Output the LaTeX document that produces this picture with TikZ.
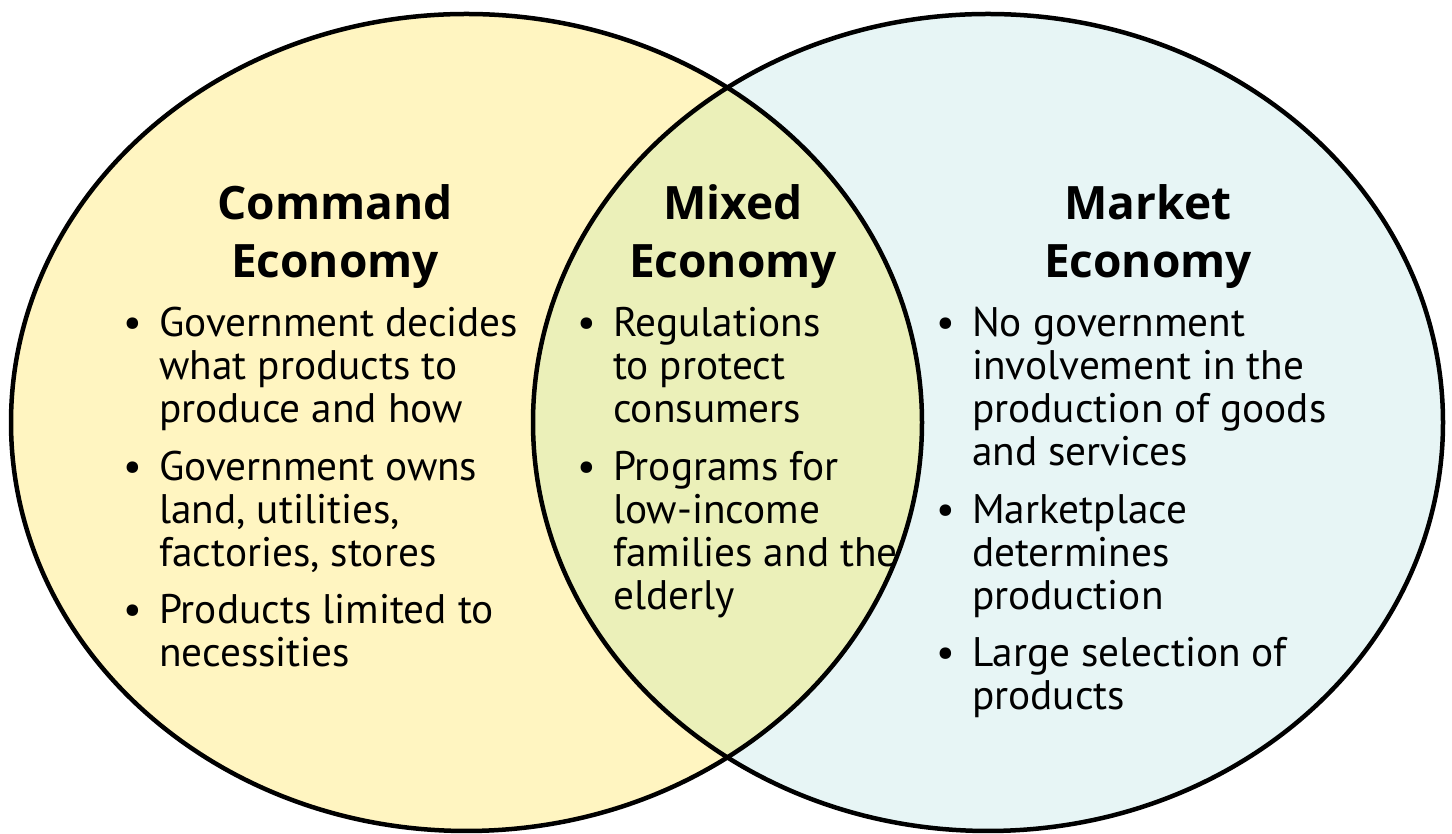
\documentclass[tikz,border=0pt]{standalone}
\usepackage{fontspec}
\setmainfont{PT Sans}
\newfontfamily\titlefont{Open Sans}
\definecolor{cmdfill}{RGB}{255,245,193}
\definecolor{mktfill}{RGB}{231,245,245}
\definecolor{mixfill}{RGB}{235,240,185}
\begin{document}
\begin{tikzpicture}[x=1pt,y=1pt,
  title/.style={align=center,anchor=base,font=\titlefont\bfseries\fontsize{46}{58}\selectfont},
  item/.style={align=left,anchor=base west,inner sep=0pt,font=\fontsize{41.3}{43}\selectfont},
  outline/.style={draw=black,line width=4.5pt}]
\useasboundingbox (0,0) rectangle (1452,834);
\fill[white] (0,0) rectangle (1452,834);
\coordinate (lc) at (466.5,411.5);
\coordinate (rc) at (988,411.5);
\fill[cmdfill] (lc) ellipse [x radius=455.5, y radius=408.5];
\fill[mktfill] (rc) ellipse [x radius=455, y radius=408.5];
\begin{scope}
  \clip (lc) ellipse [x radius=455.5, y radius=408.5];
  \fill[mixfill] (rc) ellipse [x radius=455, y radius=408.5];
\end{scope}
\draw[outline] (lc) ellipse [x radius=455.5, y radius=408.5];
\draw[outline] (rc) ellipse [x radius=455, y radius=408.5];
% titles (anchor base = baseline of the last line)
\node[title] (tcmd) at (335,556) {Command\\Economy};
\node[title] (tmix) at (733,556) {Mixed\\Economy};
\node[title] (tmkt) at (1148,556) {Market\\Economy};
% bullets
\newcommand{\bul}{\llap{\textbullet\hspace{17pt}}}
\node[item] (c1) at (159,411) {\bul Government decides\\what products to\\produce and how};
\node[item] (c2) at (159,267) {\bul Government owns\\land, utilities,\\factories, stores};
\node[item] (c3) at (159,167) {\bul Products limited to\\necessities};
\node[item] (m1) at (613,411) {\bul Regulations\\to protect\\consumers};
\node[item] (m2) at (613,224) {\bul Programs for\\low-income\\families and the\\elderly};
\node[item] (k1) at (972,368) {\bul No government\\involvement in the\\production of goods\\and services};
\node[item] (k2) at (972,224) {\bul Marketplace\\determines\\production};
\node[item] (k3) at (972,124) {\bul Large selection of\\products};
\end{tikzpicture}
\end{document}
